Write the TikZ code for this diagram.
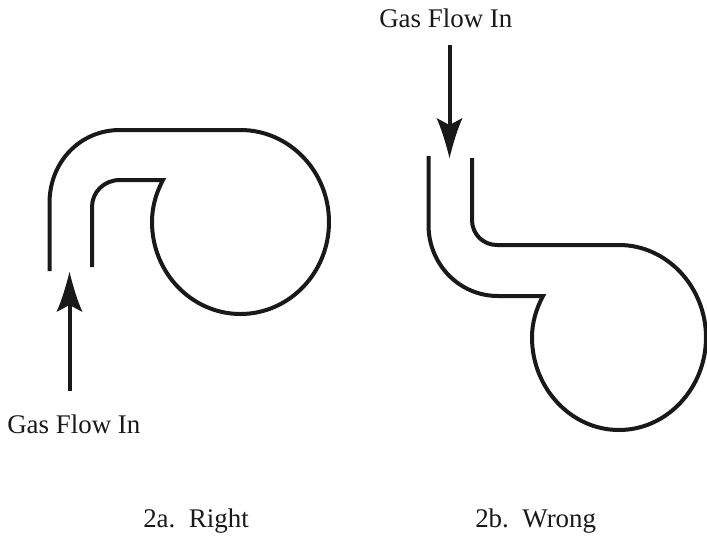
\documentclass[tikz,border=0pt]{standalone}
\usepackage{fontspec}
\setmainfont{Liberation Serif}
\tikzset{
  pipe/.style={line width=3pt,color=black!90,line join=miter},
  flow/.style={line width=3pt,color=black!90},
  head/.style={fill=black!90,draw=none},
  lbl/.style={inner sep=0pt,font=\fontsize{20.2pt}{22pt}\selectfont,color=black!90}
}
\begin{document}
\begin{tikzpicture}[x=0.75pt,y=-0.75pt]
\useasboundingbox (0,0) rectangle (707,537);
% 2a
\draw[pipe] (49.5,271) -- (49.5,203)
  .. controls (49.5,162) and (80,130) .. (120,130) -- (240.5,130)
  .. controls (289,130) and (329,171) .. (329,222)
  .. controls (329,273) and (289,314) .. (240.5,314)
  .. controls (192,314) and (152,273) .. (152,222)
  .. controls (152,207) and (156,193) .. (163,180) -- (120,180)
  .. controls (104,180) and (92,192) .. (92,207) -- (92,267);
\coordinate (aStart) at (69.5,391);
\coordinate (aEnd) at (69.5,305);
\draw[flow] (aStart) -- (aEnd);
\fill[head] (69.5,272) .. controls (72.5,284) and (77,300) .. (82.5,312)
  -- (69.5,305) -- (56.5,312)
  .. controls (62,300) and (66.5,284) .. (69.5,272) -- cycle;
\node[lbl,anchor=base west] (aLabel) at (7,433) {Gas Flow In};
\node[lbl,anchor=base west] (aCap) at (143,527) {2a.\ \ Right};
% 2b
\draw[pipe] (428.5,156) -- (428.5,225)
  .. controls (428.5,264) and (459,296) .. (498,296) -- (543,296)
  .. controls (536,309) and (532,323) .. (532,337.5)
  .. controls (532,388) and (571,430) .. (619,430)
  .. controls (667,430) and (706,388) .. (706,337.5)
  .. controls (706,287) and (667,245) .. (619,245) -- (497,245)
  .. controls (483,245) and (472,234) .. (472,220) -- (472,158);
\coordinate (bStart) at (450,45);
\coordinate (bEnd) at (450,125);
\draw[flow] (bStart) -- (bEnd);
\fill[head] (449.5,158) .. controls (452.5,146) and (457,130) .. (462.5,118)
  -- (449.5,125) -- (436.5,118)
  .. controls (442,130) and (446.5,146) .. (449.5,158) -- cycle;
\node[lbl,anchor=base west] (bLabel) at (379,27) {Gas Flow In};
\node[lbl,anchor=base west] (bCap) at (475,527) {2b.\ \ Wrong};
\end{tikzpicture}
\end{document}
